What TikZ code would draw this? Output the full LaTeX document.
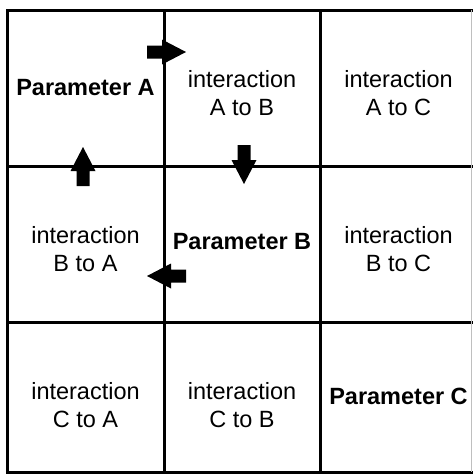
\documentclass[tikz,border=0pt]{standalone}
\usepackage{fontspec}
\setmainfont{Liberation Sans}
\begin{document}
\begin{tikzpicture}[x=1pt,y=-1pt,
  gridline/.style={line width=3pt,line cap=rect},
  cell/.style={font=\fontsize{23.5}{28}\selectfont,align=center,inner sep=0pt},
  param/.style={cell,font=\fontsize{23.5}{28}\selectfont\bfseries},
  blockarr/.pic={\fill (0,-6.5) -- (15,-6.5) -- (15,-12.5) -- (39,0) -- (15,12.5) -- (15,6.5) -- (0,6.5) -- cycle;}]
\useasboundingbox (0,0) rectangle (473,474);
% grid
\draw[gridline] (7,10) -- (480,10);
\draw[gridline] (7,166) -- (480,166);
\draw[gridline] (7,322) -- (480,322);
\draw[gridline] (7,472) -- (480,472);
\draw[gridline] (7,10) -- (7,472);
\draw[gridline] (164,10) -- (164,472);
\draw[gridline] (320,10) -- (320,472);
\draw[line width=0.6pt,black!25] (471,10) -- (471,472);
% cells
\node[param] (pA) at (85.5,88) {Parameter A};
\node[cell] (iAB) at (242,93) {interaction\\A to B};
\node[cell] (iAC) at (398.5,93) {interaction\\A to C};
\node[cell] (iBA) at (85.5,249) {interaction\\B to A};
\node[param] (pB) at (242,242) {Parameter B};
\node[cell] (iBC) at (398.5,249) {interaction\\B to C};
\node[cell] (iCA) at (85.5,405) {interaction\\C to A};
\node[cell] (iCB) at (242,405) {interaction\\C to B};
\node[param] (pC) at (398.5,396) {Parameter C};
% block arrows
\pic at (147,52) {blockarr};
\pic[rotate=90] at (83,186) {blockarr};
\pic[rotate=-90] at (244,145) {blockarr};
\pic[rotate=180] at (186,276) {blockarr};
\end{tikzpicture}
\end{document}
